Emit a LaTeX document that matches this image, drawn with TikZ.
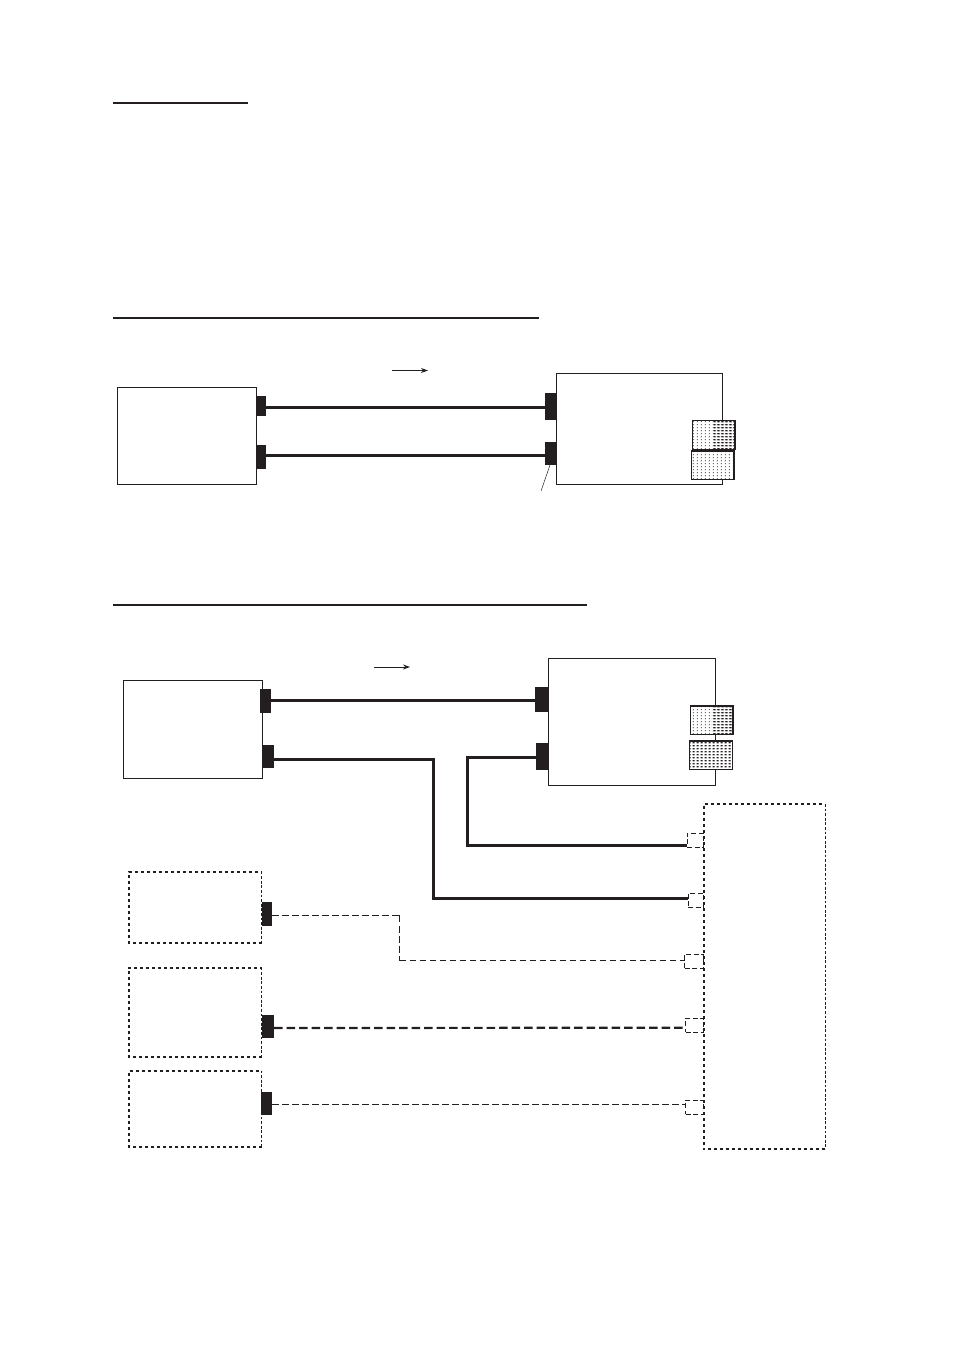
\documentclass[tikz,border=0pt]{standalone}
\usepackage{xcolor}
\usepackage{tikz}
\usetikzlibrary{patterns,arrows.meta}
\definecolor{inkCol}{HTML}{231F20}
% dot screens of the two pads
\pgfdeclarepatternformonly{padsparse}{\pgfpointorigin}{\pgfqpoint{4pt}{3pt}}{\pgfqpoint{4pt}{3pt}}{
  \pgfpathrectangle{\pgfqpoint{1pt}{1pt}}{\pgfqpoint{1.3pt}{1.2pt}}\pgfusepath{fill}}
\pgfdeclarepatternformonly{paddense}{\pgfpointorigin}{\pgfqpoint{4.2pt}{3pt}}{\pgfqpoint{4.2pt}{3pt}}{
  \pgfpathrectangle{\pgfqpoint{0.8pt}{0.7pt}}{\pgfqpoint{2.3pt}{1.7pt}}\pgfusepath{fill}}
\tikzset{
  unit/.style={draw=inkCol, fill=white, line width=1pt, anchor=north west, inner sep=0pt, outer sep=0pt,
        minimum width=#1},
  ghost/.style={anchor=north west, inner sep=0pt, outer sep=0pt, minimum width=#1},
  plug/.style={fill=inkCol, anchor=north west, inner sep=0pt, outer sep=0pt, minimum width=#1},
  port/.style={draw=inkCol, line width=0.9pt, dash pattern=on 5pt off 2.6pt, anchor=north west,
        inner sep=0pt, outer sep=0pt, minimum width=#1, minimum height=14pt},
  pad/.style={draw=inkCol, line width=1.2pt, preaction={fill=white}, pattern=padsparse, pattern color=inkCol,
        anchor=north west, inner sep=0pt, outer sep=0pt, minimum width=#1},
  padtwo/.style={pad=#1, path picture={
        \fill[pattern=paddense, pattern color=inkCol]
          (path picture bounding box.north) rectangle (path picture bounding box.south east);}},
  padfull/.style={pad=#1, pattern=paddense, line width=1.5pt},
  wire/.style={draw=inkCol, line width=3pt},
  wiredash/.style={draw=inkCol, line width=1pt, dash pattern=on 6.8pt off 3.2pt},
  wirebold/.style={draw=inkCol, line width=2.2pt, dash pattern=on 8.5pt off 4pt},
  heavy/.style={draw=inkCol, line width=2pt, dash pattern=on 3pt off 3pt},
  light/.style={draw=inkCol, line width=1pt, dash pattern=on 2.8pt off 1.8pt},
  rule/.style={draw=inkCol, line width=1.5pt},
  flowarr/.style={draw=inkCol, line width=0.9pt, -{Stealth[length=7pt,width=5pt]}},
  lead/.style={draw=inkCol, line width=0.5pt},
}
\begin{document}
\begin{tikzpicture}[x=1pt,y=-1pt]
  \useasboundingbox (0,0) rectangle (954,1350);
  % heading rules
  \coordinate (r1a) at (113,103);   \coordinate (r1b) at (248,103);
  \coordinate (r2a) at (113,318);   \coordinate (r2b) at (539,318);
  \coordinate (r3a) at (113,605);   \coordinate (r3b) at (587,605);
  \draw[rule] (r1a)--(r1b);
  \draw[rule] (r2a)--(r2b);
  \draw[rule] (r3a)--(r3b);

  % upper picture
  \node[unit=138.5pt, minimum height=97pt] (a) at (117.5,387.5){};
  \node[unit=166pt, minimum height=111pt] (b) at (556.5,373.5){};
  \node[plug=9.5pt, minimum height=20pt] (a1) at (256,396){};
  \node[plug=10pt, minimum height=23.5pt] (a2) at (256,445){};
  \node[plug=12pt, minimum height=27pt] (b1) at (544.5,393){};
  \node[plug=12pt, minimum height=23pt] (b2) at (544.5,442){};
  \node[padtwo=42.5pt, minimum height=29pt] (bp1) at (692.5,420.5){};
  \node[pad=42.5pt, minimum height=28.5pt] (bp2) at (691.5,451){};
  \draw[wire] ([yshift=-1pt]a1.east)--([yshift=-0.5pt]b1.west);
  \draw[wire] ([yshift=1.75pt]a2.east)--([yshift=-1.5pt]b2.west);
  \coordinate (q1) at (541,491);
  \draw[lead] ([xshift=-0.5pt]b2.south)--(q1);
  \coordinate (f1a) at (392,370.5);  \coordinate (f1b) at (428,370.5);
  \draw[flowarr] (f1a)--(f1b);

  % lower picture, solid units
  \node[unit=139pt, minimum height=97.5pt] (c) at (123.5,680.5){};
  \node[unit=167pt, minimum height=126.5pt] (d) at (548.5,658.5){};
  \node[plug=11pt, minimum height=23.5pt] (c1) at (260,689){};
  \node[plug=11.5pt, minimum height=22.5pt] (c2) at (262.5,745){};
  \node[plug=13.5pt, minimum height=24.5pt] (d1) at (535,687){};
  \node[plug=12.5pt, minimum height=26.5pt] (d2) at (536,743){};
  \node[padtwo=42.5pt, minimum height=28.5pt] (dp1) at (690.5,706){};
  \node[padfull=43pt, minimum height=28.5pt] (dp2) at (689.5,741){};
  \coordinate (f2a) at (374,667);  \coordinate (f2b) at (410,667);
  \draw[flowarr] (f2a)--(f2b);

  % lower picture, optional units
  \node[ghost=121.5pt, minimum height=345pt] (e) at (703.5,804){};
  \node[ghost=133pt, minimum height=71pt] (f) at (128.5,871.5){};
  \node[ghost=133pt, minimum height=89.5pt] (g) at (128.5,967.5){};
  \node[ghost=133pt, minimum height=76pt] (h) at (128.5,1070.5){};
  \foreach \n in {e,f,g,h}{
    \draw[heavy] (\n.south east)--(\n.south west)--(\n.north west)--(\n.north east);
    \draw[light] (\n.north east)--(\n.south east);
  }
  \node[plug=10.5pt, minimum height=24pt] (f1) at (261.5,902){};
  \node[plug=12pt, minimum height=22.5pt] (g1) at (262,1015){};
  \node[plug=11pt, minimum height=23pt] (h1) at (261,1092){};
  \node[port=16.5pt] (p1) at (687,833){};
  \node[port=15.5pt] (p2) at (688,893){};
  \node[port=19pt] (p3) at (684.5,954){};
  \node[port=18pt] (p4) at (685.5,1018){};
  \node[port=18pt] (p5) at (685.5,1100){};

  % cables
  \coordinate (j1) at (433.5,898);
  \coordinate (j2) at (467,845);
  \coordinate (j3) at (399.5,960.5);
  \coordinate (j4) at (399.5,915.3);
  \draw[wire] ([yshift=0.25pt]c1.east)--([yshift=-1.25pt]d1.west);
  \draw[wire] ([yshift=-3.25pt]c2.east) -| (j1) -- ([yshift=2pt]p2.west);
  \draw[wire] ([yshift=-0.75pt]d2.west) -| (j2) -- ([yshift=-5pt]p1.west);
  \draw[wiredash] ([yshift=-1.3pt]f1.east)--(j4);
  \draw[wirebold, line width=1.8pt, dash pattern=on 7pt off 3.2pt] (j4)--(j3);
  \draw[wiredash] (j3)--([yshift=0.5pt]p3.west);
  \draw[wirebold] ([yshift=-1.75pt]g1.east)--([yshift=-2.7pt]p4.west);
  \draw[wiredash] ([yshift=-0.8pt]h1.east)--([yshift=2.7pt]p5.west);
\end{tikzpicture}
\end{document}
